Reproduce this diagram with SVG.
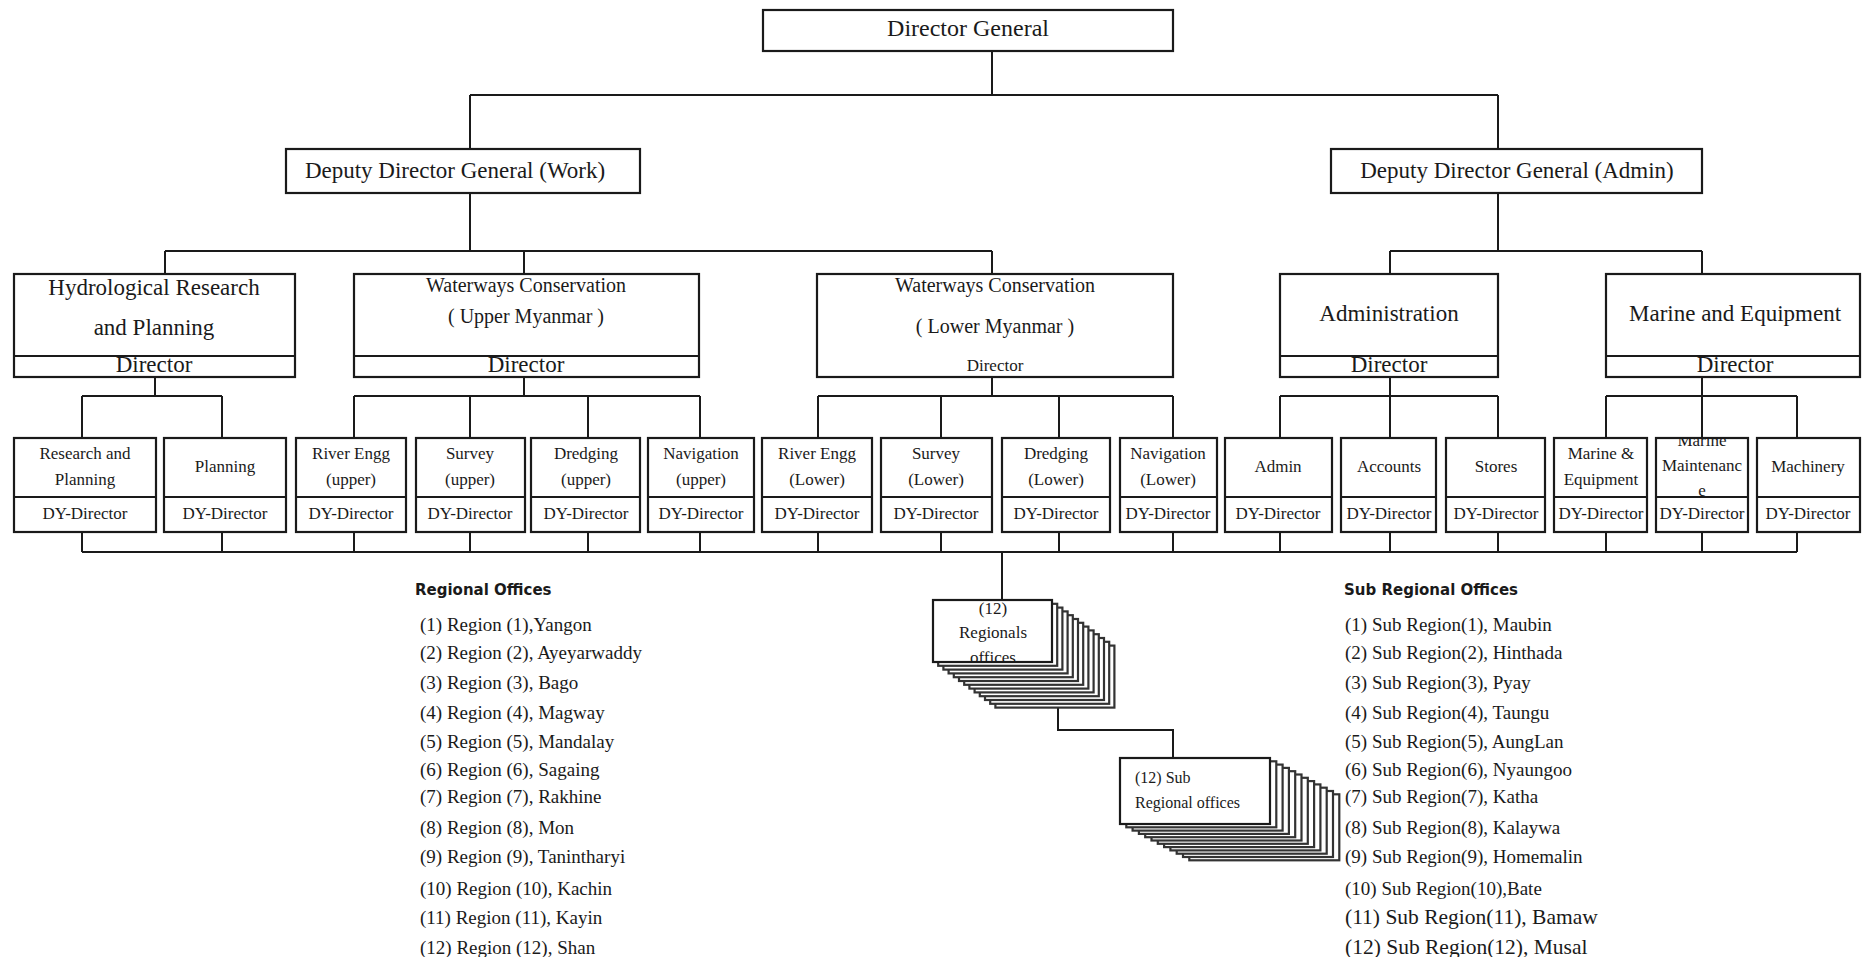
<svg xmlns="http://www.w3.org/2000/svg" width="1862" height="957" viewBox="0 0 1862 957">
<style>
text{font-family:"Liberation Serif","Times New Roman",serif;fill:#1a1a1a}
.box{fill:#fff;stroke:#1a1a1a;stroke-width:2.2}
.div{stroke:#1a1a1a;stroke-width:2.2;fill:none}
.ln{stroke:#1a1a1a;stroke-width:2;fill:none}
.stk{fill:#fff;stroke:#333;stroke-width:2.2}
.t24{font-size:24px;text-anchor:middle}
.t23{font-size:23px;text-anchor:middle}
.t20{font-size:20px;text-anchor:middle}
.t17{font-size:17px;text-anchor:middle}
.t16{font-size:16px}
.hd{font-family:"DejaVu Sans",sans-serif;font-weight:bold;font-size:15px}
.li{font-size:19px}
</style>
<defs>
<clipPath id="cMM"><rect x="1657" y="439" width="90" height="57"/></clipPath>
<clipPath id="cRO"><rect x="934" y="601" width="117" height="60"/></clipPath>
</defs>
<rect width="1862" height="957" fill="#fff"/>

<g id="connectors">
<path class="ln" d="M992 51V95M470 95H1498M470 95V149M1498 95V149"/>
<path class="ln" d="M470 193V251M165 251H992M165 251V274M524 251V274M992 251V274"/>
<path class="ln" d="M1498 193V251M1390 251H1702M1390 251V274M1702 251V274"/>
<path class="ln" d="M155 377V396M82 396H222M82 396V438M222 396V438"/>
<path class="ln" d="M524 377V396M354 396H700M354 396V438M470 396V438M588 396V438M700 396V438"/>
<path class="ln" d="M992 377V396M818 396H1173M818 396V438M941 396V438M1059 396V438M1173 396V438"/>
<path class="ln" d="M1390 377V396M1280 396H1498M1280 396V438M1390 396V438M1498 396V438"/>
<path class="ln" d="M1702 377V396M1606 396H1797M1606 396V438M1702 396V438M1797 396V438"/>
<path class="ln" d="M82 552H1797M82 532V552M222 532V552M354 532V552M470 532V552M588 532V552M700 532V552M818 532V552M941 532V552M1059 532V552M1173 532V552M1280 532V552M1390 532V552M1498 532V552M1606 532V552M1702 532V552M1797 532V552"/>
<path class="ln" d="M1002 552V600"/>
<path class="ln" d="M1058 707V730H1173V758"/>
</g>

<g id="director-general">
<rect class="box" x="763" y="10" width="410" height="41"/>
<text class="t24" x="968" y="36">Director General</text>
</g>
<g id="ddg-work">
<rect class="box" x="286" y="149" width="354" height="44"/>
<text class="t23" x="455" y="178">Deputy Director General (Work)</text>
</g>
<g id="ddg-admin">
<rect class="box" x="1331" y="149" width="371" height="44"/>
<text class="t23" x="1517" y="178">Deputy Director General (Admin)</text>
</g>

<g id="hydrological">
<rect class="box" x="14" y="274" width="281" height="103"/>
<line class="div" x1="14" y1="356" x2="295" y2="356"/>
<text class="t23" x="154" y="295">Hydrological Research</text>
<text class="t23" x="154" y="335">and Planning</text>
<text class="t23" x="154" y="372">Director</text>
</g>
<g id="wc-upper">
<rect class="box" x="354" y="274" width="345" height="103"/>
<line class="div" x1="354" y1="356" x2="699" y2="356"/>
<text class="t20" x="526" y="292">Waterways Conservation</text>
<text class="t20" x="526" y="323">( Upper Myanmar )</text>
<text class="t23" x="526" y="372">Director</text>
</g>
<g id="wc-lower">
<rect class="box" x="817" y="274" width="356" height="103"/>
<text class="t20" x="995" y="292">Waterways Conservation</text>
<text class="t20" x="995" y="333">( Lower Myanmar )</text>
<text class="t17" x="995" y="371">Director</text>
</g>
<g id="administration">
<rect class="box" x="1280" y="274" width="218" height="103"/>
<line class="div" x1="1280" y1="356" x2="1498" y2="356"/>
<text class="t23" x="1389" y="321">Administration</text>
<text class="t23" x="1389" y="372">Director</text>
</g>
<g id="marine-equipment">
<rect class="box" x="1606" y="274" width="254" height="103"/>
<line class="div" x1="1606" y1="356" x2="1860" y2="356"/>
<text class="t23" x="1735" y="321">Marine and Equipment</text>
<text class="t23" x="1735" y="372">Director</text>
</g>

<g id="research-planning">
<rect class="box" x="14" y="438" width="142" height="94"/>
<line class="div" x1="14" y1="497" x2="156" y2="497"/>
<text class="t17" x="85" y="459">Research and</text>
<text class="t17" x="85" y="485">Planning</text>
<text class="t17" x="85" y="519">DY-Director</text>
</g>
<g id="planning">
<rect class="box" x="164" y="438" width="122" height="94"/>
<line class="div" x1="164" y1="497" x2="286" y2="497"/>
<text class="t17" x="225" y="472">Planning</text>
<text class="t17" x="225" y="519">DY-Director</text>
</g>
<g id="river-engg-upper">
<rect class="box" x="296" y="438" width="110" height="94"/>
<line class="div" x1="296" y1="497" x2="406" y2="497"/>
<text class="t17" x="351" y="459">River Engg</text>
<text class="t17" x="351" y="485">(upper)</text>
<text class="t17" x="351" y="519">DY-Director</text>
</g>
<g id="survey-upper">
<rect class="box" x="416" y="438" width="109" height="94"/>
<line class="div" x1="416" y1="497" x2="525" y2="497"/>
<text class="t17" x="470" y="459">Survey</text>
<text class="t17" x="470" y="485">(upper)</text>
<text class="t17" x="470" y="519">DY-Director</text>
</g>
<g id="dredging-upper">
<rect class="box" x="531" y="438" width="109" height="94"/>
<line class="div" x1="531" y1="497" x2="640" y2="497"/>
<text class="t17" x="586" y="459">Dredging</text>
<text class="t17" x="586" y="485">(upper)</text>
<text class="t17" x="586" y="519">DY-Director</text>
</g>
<g id="navigation-upper">
<rect class="box" x="648" y="438" width="106" height="94"/>
<line class="div" x1="648" y1="497" x2="754" y2="497"/>
<text class="t17" x="701" y="459">Navigation</text>
<text class="t17" x="701" y="485">(upper)</text>
<text class="t17" x="701" y="519">DY-Director</text>
</g>
<g id="river-engg-lower">
<rect class="box" x="762" y="438" width="110" height="94"/>
<line class="div" x1="762" y1="497" x2="872" y2="497"/>
<text class="t17" x="817" y="459">River Engg</text>
<text class="t17" x="817" y="485">(Lower)</text>
<text class="t17" x="817" y="519">DY-Director</text>
</g>
<g id="survey-lower">
<rect class="box" x="881" y="438" width="111" height="94"/>
<line class="div" x1="881" y1="497" x2="992" y2="497"/>
<text class="t17" x="936" y="459">Survey</text>
<text class="t17" x="936" y="485">(Lower)</text>
<text class="t17" x="936" y="519">DY-Director</text>
</g>
<g id="dredging-lower">
<rect class="box" x="1002" y="438" width="108" height="94"/>
<line class="div" x1="1002" y1="497" x2="1110" y2="497"/>
<text class="t17" x="1056" y="459">Dredging</text>
<text class="t17" x="1056" y="485">(Lower)</text>
<text class="t17" x="1056" y="519">DY-Director</text>
</g>
<g id="navigation-lower">
<rect class="box" x="1120" y="438" width="97" height="94"/>
<line class="div" x1="1120" y1="497" x2="1217" y2="497"/>
<text class="t17" x="1168" y="459">Navigation</text>
<text class="t17" x="1168" y="485">(Lower)</text>
<text class="t17" x="1168" y="519">DY-Director</text>
</g>
<g id="admin">
<rect class="box" x="1225" y="438" width="107" height="94"/>
<line class="div" x1="1225" y1="497" x2="1332" y2="497"/>
<text class="t17" x="1278" y="472">Admin</text>
<text class="t17" x="1278" y="519">DY-Director</text>
</g>
<g id="accounts">
<rect class="box" x="1341" y="438" width="95" height="94"/>
<line class="div" x1="1341" y1="497" x2="1436" y2="497"/>
<text class="t17" x="1389" y="472">Accounts</text>
<text class="t17" x="1389" y="519">DY-Director</text>
</g>
<g id="stores">
<rect class="box" x="1446" y="438" width="99" height="94"/>
<line class="div" x1="1446" y1="497" x2="1545" y2="497"/>
<text class="t17" x="1496" y="472">Stores</text>
<text class="t17" x="1496" y="519">DY-Director</text>
</g>
<g id="marine-and-equipment">
<rect class="box" x="1554" y="438" width="93" height="94"/>
<line class="div" x1="1554" y1="497" x2="1647" y2="497"/>
<text class="t17" x="1601" y="459">Marine &amp;</text>
<text class="t17" x="1601" y="485">Equipment</text>
<text class="t17" x="1601" y="519">DY-Director</text>
</g>
<g id="marine-maintenance">
<rect class="box" x="1656" y="438" width="92" height="94"/>
<g clip-path="url(#cMM)">
<text class="t17" x="1702" y="446">Marine</text>
<text class="t17" x="1702" y="471">Maintenanc</text>
<text class="t17" x="1702" y="496">e</text>
</g>
<line class="div" x1="1656" y1="497" x2="1748" y2="497"/>
<text class="t17" x="1702" y="519">DY-Director</text>
</g>
<g id="machinery">
<rect class="box" x="1757" y="438" width="103" height="94"/>
<line class="div" x1="1757" y1="497" x2="1860" y2="497"/>
<text class="t17" x="1808" y="472">Machinery</text>
<text class="t17" x="1808" y="519">DY-Director</text>
</g>

<g id="regional-offices-stack">
<rect class="stk" x="995.4" y="645.6" width="119" height="62"/>
<rect class="stk" x="990.2" y="641.8" width="119" height="62"/>
<rect class="stk" x="985" y="638" width="119" height="62"/>
<rect class="stk" x="979.8" y="634.2" width="119" height="62"/>
<rect class="stk" x="974.6" y="630.4" width="119" height="62"/>
<rect class="stk" x="969.4" y="626.6" width="119" height="62"/>
<rect class="stk" x="964.2" y="622.8" width="119" height="62"/>
<rect class="stk" x="959" y="619" width="119" height="62"/>
<rect class="stk" x="953.8" y="615.2" width="119" height="62"/>
<rect class="stk" x="948.6" y="611.4" width="119" height="62"/>
<rect class="stk" x="943.4" y="607.6" width="119" height="62"/>
<rect class="stk" x="938.2" y="603.8" width="119" height="62"/>
<rect class="box" x="933" y="600" width="119" height="62"/>
<g clip-path="url(#cRO)">
<text class="t17" x="993" y="614">(12)</text>
<text class="t17" x="993" y="638">Regionals</text>
<text class="t17" x="993" y="663">offices</text>
</g>
</g>

<g id="sub-regional-offices-stack">
<rect class="stk" x="1189.3" y="794.3" width="150" height="66"/>
<rect class="stk" x="1183" y="791" width="150" height="66"/>
<rect class="stk" x="1176.7" y="787.7" width="150" height="66"/>
<rect class="stk" x="1170.4" y="784.4" width="150" height="66"/>
<rect class="stk" x="1164.1" y="781.1" width="150" height="66"/>
<rect class="stk" x="1157.8" y="777.8" width="150" height="66"/>
<rect class="stk" x="1151.5" y="774.5" width="150" height="66"/>
<rect class="stk" x="1145.2" y="771.2" width="150" height="66"/>
<rect class="stk" x="1138.9" y="767.9" width="150" height="66"/>
<rect class="stk" x="1132.6" y="764.6" width="150" height="66"/>
<rect class="stk" x="1126.3" y="761.3" width="150" height="66"/>
<rect class="box" x="1120" y="758" width="150" height="66"/>
<text class="t16" x="1135" y="783">(12) Sub</text>
<text class="t16" x="1135" y="808">Regional offices</text>
</g>

<g id="regional-offices-list">
<text class="hd" x="415" y="595">Regional Offices</text>
<text class="li" x="420" y="631">(1) Region (1),Yangon</text>
<text class="li" x="420" y="659">(2) Region (2), Ayeyarwaddy</text>
<text class="li" x="420" y="689">(3) Region (3), Bago</text>
<text class="li" x="420" y="719">(4) Region (4), Magway</text>
<text class="li" x="420" y="748">(5) Region (5), Mandalay</text>
<text class="li" x="420" y="776">(6) Region (6), Sagaing</text>
<text class="li" x="420" y="803">(7) Region (7), Rakhine</text>
<text class="li" x="420" y="834">(8) Region (8), Mon</text>
<text class="li" x="420" y="863">(9) Region (9), Tanintharyi</text>
<text class="li" x="420" y="895">(10) Region (10), Kachin</text>
<text class="li" x="420" y="924">(11) Region (11), Kayin</text>
<text class="li" x="420" y="954">(12) Region (12), Shan</text>
</g>

<g id="sub-regional-offices-list">
<text class="hd" x="1344" y="595">Sub Regional Offices</text>
<text class="li" x="1345" y="631">(1) Sub Region(1), Maubin</text>
<text class="li" x="1345" y="659">(2) Sub Region(2), Hinthada</text>
<text class="li" x="1345" y="689">(3) Sub Region(3), Pyay</text>
<text class="li" x="1345" y="719">(4) Sub Region(4), Taungu</text>
<text class="li" x="1345" y="748">(5) Sub Region(5), AungLan</text>
<text class="li" x="1345" y="776">(6) Sub Region(6), Nyaungoo</text>
<text class="li" x="1345" y="803">(7) Sub Region(7), Katha</text>
<text class="li" x="1345" y="834">(8) Sub Region(8), Kalaywa</text>
<text class="li" x="1345" y="863">(9) Sub Region(9), Homemalin</text>
<text class="li" x="1345" y="895">(10) Sub Region(10),Bate</text>
<text class="li" x="1345" y="924" style="font-size:21.5px">(11) Sub Region(11), Bamaw</text>
<text class="li" x="1345" y="954" style="font-size:21.5px">(12) Sub Region(12), Musal</text>
</g>
</svg>
